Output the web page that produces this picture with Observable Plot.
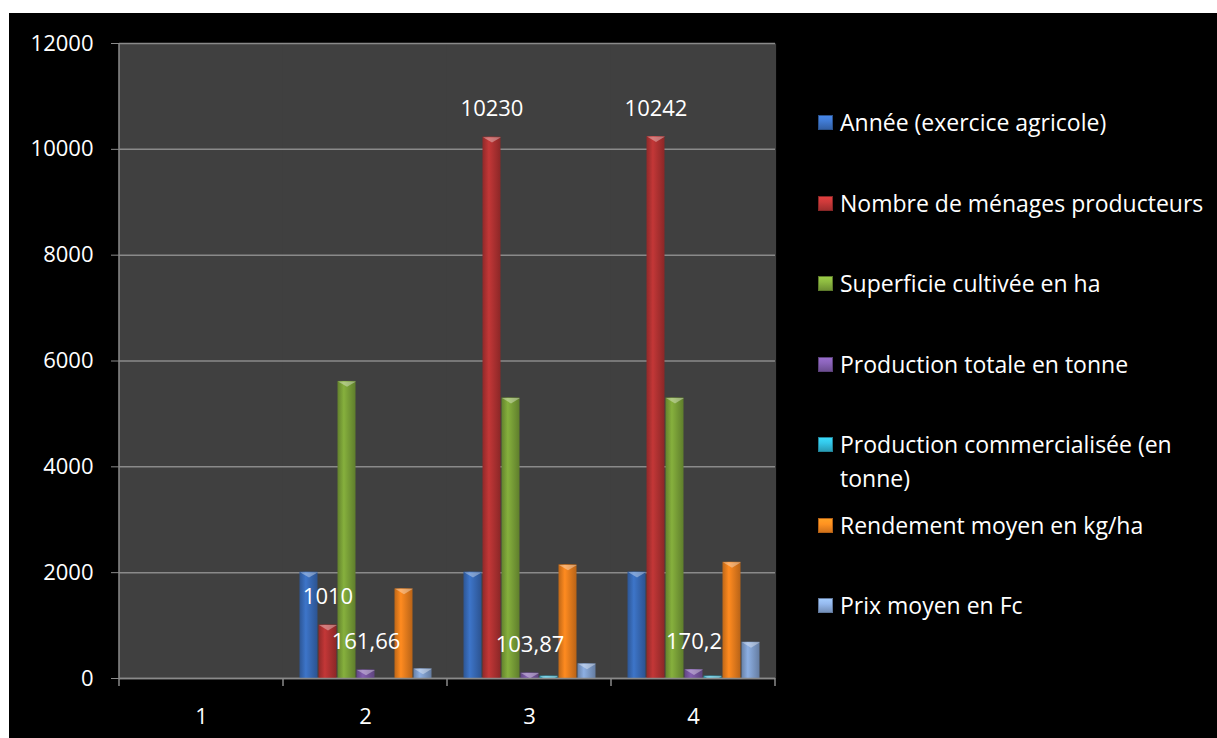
<!DOCTYPE html>
<html><head><meta charset="utf-8">
<script src="https://cdn.jsdelivr.net/npm/d3@7"></script>
<script src="https://cdn.jsdelivr.net/npm/@observablehq/plot@0.6"></script>
<style>
html,body{margin:0;padding:0;background:#fff;width:1217px;height:738px;overflow:hidden}
#wrap{position:absolute;left:9px;top:13px;width:1208px;height:725px;background:#000;overflow:hidden}
#chart{position:absolute;left:0;top:0}
.item{position:absolute;left:809px;width:399px;color:#fff;font-family:"Open Sans",sans-serif;font-size:23px;line-height:34px}
.sw{position:absolute;left:0;top:10px;width:15px;height:15px}
.tx{position:absolute;left:22px;top:0;width:376px}
</style></head><body><div id="wrap"><div id="chart"></div><div id="legend"></div></div>
<script>
// categories (x axis)
const groups = ["1", "2", "3", "4"];
// series names (legend)
const series = [
  "Année (exercice agricole)",
  "Nombre de ménages producteurs",
  "Superficie cultivée en ha",
  "Production totale en tonne",
  "Production commercialisée (en tonne)",
  "Rendement moyen en kg/ha",
  "Prix moyen en Fc"
];
// series values per category (group 1 empty)
const annee      = [null, 2009, 2010, 2011];
const menages    = [null, 1010, 10230, 10242];
const superficie = [null, 5614, 5300, 5300];
const prodTotale = [null, 161.66, 103.87, 170.2];
const prodComm   = [null, 0, 45, 45];
const rendement  = [null, 1694, 2147, 2196];
const prix       = [null, 183, 278, 685];
// y tick labels
const yTicks = [0, 2000, 4000, 6000, 8000, 10000, 12000];
// series with data labels
const labeled = ["Nombre de ménages producteurs", "Production totale en tonne"];

const colors = ["#3a6fbf", "#b93434", "#7fa73a", "#7d5aa8", "#2fb4d2", "#f5841e", "#86a6d6"];

const seriesValues = [annee, menages, superficie, prodTotale, prodComm, rendement, prix];
const rows = groups.flatMap((g, gi) => series.map((s, si) => ({group: g, series: s, value: seriesValues[si][gi]})));

const fmt = v => String(v).replace(".", ",");

const bevel = {draw(ctx, size) {
  const r = Math.sqrt(size / Math.PI);
  ctx.moveTo(-r, 0); ctx.lineTo(r, 0); ctx.lineTo(0, r * 0.6); ctx.closePath();
}};

const font = "'Open Sans', sans-serif";
const gray = "#8a8a8a";
const plot = Plot.plot({
  width: 1208, height: 725,
  marginLeft: 109, marginRight: 442, marginTop: 30, marginBottom: 60,
  style: {background: "transparent", color: "white", fontFamily: font, fontSize: "22px", overflow: "visible"},
  fx: {domain: groups, padding: 0, label: null},
  x: {domain: series, axis: null, paddingInner: 0, paddingOuter: 0.71},
  y: {domain: [0, 12000], label: null},
  color: {domain: series, range: series.map((s, i) => `url(#grad${i})`)},
  marks: [
    Plot.frame({fill: "#404040", stroke: "none", insetLeft: -0.6, insetRight: -0.6}),
    Plot.gridY(yTicks, {stroke: gray, strokeOpacity: 1, strokeWidth: 1.5}),
    Plot.barY(rows, {fx: "group", x: "series", y: "value", fill: "series", insetLeft: 0.5, insetRight: 0.5}),
    Plot.dot(rows, {fx: "group", x: "series", y: "value", symbol: bevel, r: 9, fill: "white", fillOpacity: 0.35, stroke: "none", clip: "frame"}),
    Plot.ruleY([0], {stroke: gray, strokeWidth: 1.5}),
    Plot.text(rows, {filter: d => d.value != null && labeled.includes(d.series), fx: "group", x: "series", y: "value", text: d => fmt(d.value), dy: -28, fill: "white", fontSize: 22}),
    Plot.axisY(yTicks, {tickSize: 8, tickPadding: 18, tickFormat: d3.format("d"), stroke: gray, fill: "white", fontSize: 22, label: null}),
    Plot.axisFx({anchor: "bottom", tickSize: 0, tickPadding: 30, fill: "white", fontSize: 22, label: null})
  ]
});

// gradients for 3D-like bars
const svg = d3.select(plot);
const defs = svg.insert("defs", ":first-child");
colors.forEach((c, i) => {
  const g = defs.append("linearGradient").attr("id", `grad${i}`).attr("x1", 0).attr("x2", 1).attr("y1", 0).attr("y2", 0);
  g.append("stop").attr("offset", "0%").attr("stop-color", d3.color(c).darker(0.7));
  g.append("stop").attr("offset", "35%").attr("stop-color", d3.color(c).brighter(0.15));
  g.append("stop").attr("offset", "100%").attr("stop-color", d3.color(c).darker(0.8));
});

// y axis line and category boundary ticks from the plot's scales
const fx = plot.scale("fx"), y = plot.scale("y");
const y0 = y.apply(0), yTop = y.apply(12000);
const bounds = groups.map(g => fx.apply(g)).concat(fx.apply(groups[groups.length - 1]) + fx.bandwidth);
svg.append("line").attr("x1", bounds[0]).attr("x2", bounds[0]).attr("y1", yTop).attr("y2", y0).attr("stroke", gray).attr("stroke-width", 1.5);
bounds.forEach(b => svg.append("line").attr("x1", b).attr("x2", b).attr("y1", y0).attr("y2", y0 + 8).attr("stroke", gray).attr("stroke-width", 1.5));

document.getElementById("chart").append(plot);

// legend
const legend = document.getElementById("legend");
series.forEach((s, i) => {
  const c = d3.color(colors[i]);
  const item = document.createElement("div");
  item.className = "item";
  item.style.top = (109 - 17 + i * 80.5) + "px";
  const sw = document.createElement("div");
  sw.className = "sw";
  sw.style.background = `linear-gradient(180deg, ${c.brighter(0.6)} 0%, ${c.brighter(0.3)} 40%, ${c.darker(0.5)} 100%)`;
  sw.style.boxShadow = `inset 0 0 0 1px ${c.darker(0.9)}`;
  const tx = document.createElement("div");
  tx.className = "tx";
  tx.textContent = s;
  item.append(sw, tx);
  legend.append(item);
});
</script></body></html>
